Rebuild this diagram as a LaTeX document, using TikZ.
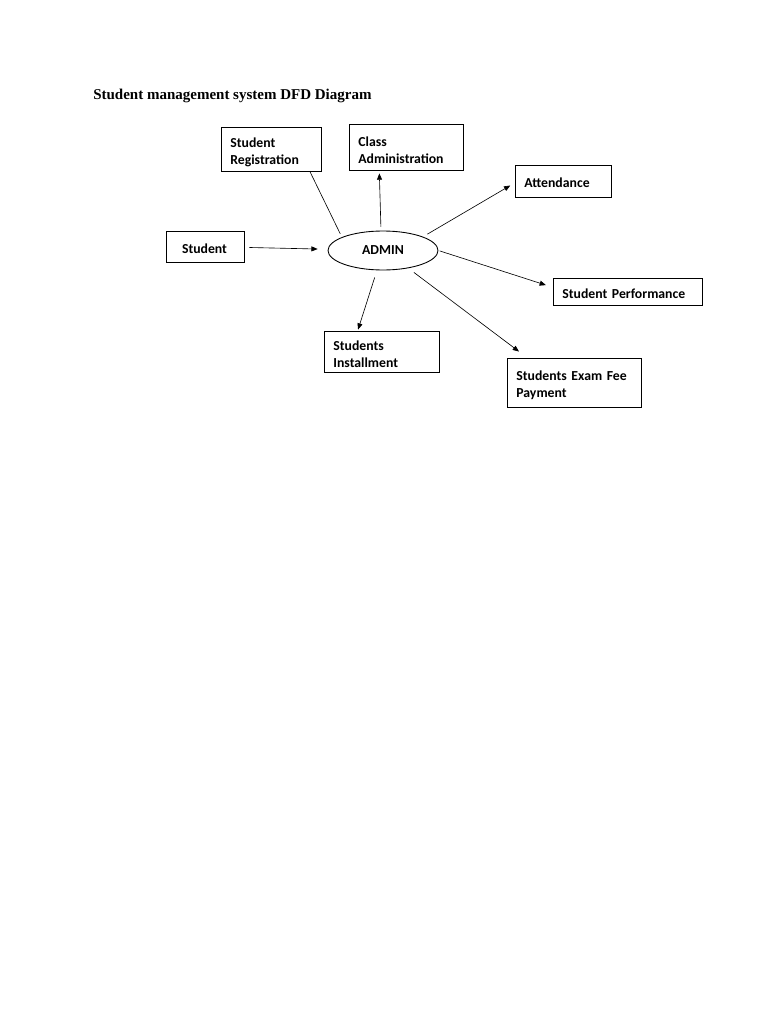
\documentclass[tikz,border=0pt]{standalone}
\usepackage{fontspec}
\setmainfont{Carlito}
\newfontfamily\titlefont{Liberation Serif}
\usetikzlibrary{arrows.meta,shapes.geometric}

\begin{document}
\begin{tikzpicture}[x=0.8pt,y=-0.8pt,
	box/.style={draw, line width=0.7pt, align=left, inner xsep=7.5pt, inner ysep=0pt,
		font=\fontsize{11}{13.6}\selectfont\bfseries, text height=11pt},
	twoline/.style={box, text height=12.5pt},
	flow/.style={-{Triangle[length=5pt,width=4pt]}, line width=0.5pt}]
	\useasboundingbox (0,0) rectangle (768,1024);
	
	\node [anchor=base west, inner sep=0pt, font=\titlefont\fontsize{12}{14}\selectfont\bfseries]
	(title) at (93,100) {Student management system DFD Diagram};
	
	\node [draw, ellipse, line width=0.7pt, minimum width=88pt, minimum height=31.2pt, inner sep=0pt,
	font=\fontsize{11}{13.6}\selectfont\bfseries] (admin) at (383,250.5) {ADMIN};
	
	\node [twoline, minimum width=80pt, minimum height=35.2pt, text width=65pt] (reg) at (271,149) {Student\\Registration};
	\node [twoline, minimum width=91.2pt, minimum height=36.8pt, text width=76.2pt] (class) at (406,147) {Class\\Administration};
	\node [box, minimum width=76.8pt, minimum height=25.6pt, text width=61.8pt] (att) at (563,181) {Attendance};
	\node [box, minimum width=62.4pt, minimum height=24.8pt, inner xsep=12.8pt, text width=36.8pt] (student) at (205,246.5) {Student};
	\node [box, minimum width=119.2pt, minimum height=21.6pt, text width=104.2pt] (perf) at (627.5,291.5) {Student Performance};
	\node [twoline, minimum width=92pt, minimum height=32.8pt, text width=77pt] (inst) at (381.5,351.5) {Students\\Installment};
	\node [twoline, minimum width=107.2pt, minimum height=39.2pt, text width=92.2pt] (exam) at (574,382.5) {Students Exam Fee\\Payment};
	
	% flows
	\draw [flow, shorten <=4pt, shorten >=8pt] (student) -- (admin);
	\draw [line width=0.5pt, shorten >=3pt] (reg.-30.7) -- (admin.162);
	\draw [flow, shorten <=3pt, shorten >=2.4pt] ([xshift=-1.6pt]admin.north) -- ([xshift=-3pt]admin.north |- class.south);
	\draw [flow, shorten <=4pt, shorten >=4pt] (admin.19) -- ([yshift=-1.6pt]att.west);
	\draw [flow, shorten <=1pt, shorten >=5.6pt] (admin.east) -- ([yshift=3.4pt]perf.west);
	\draw [flow, shorten <=5.6pt, shorten >=8pt] (admin.-35) -- ([xshift=-37.6pt]exam.north);
	\draw [flow, shorten <=6pt, shorten >=0.8pt] (admin.-107) -- ([xshift=-19pt]inst.north);
\end{tikzpicture}
\end{document}
